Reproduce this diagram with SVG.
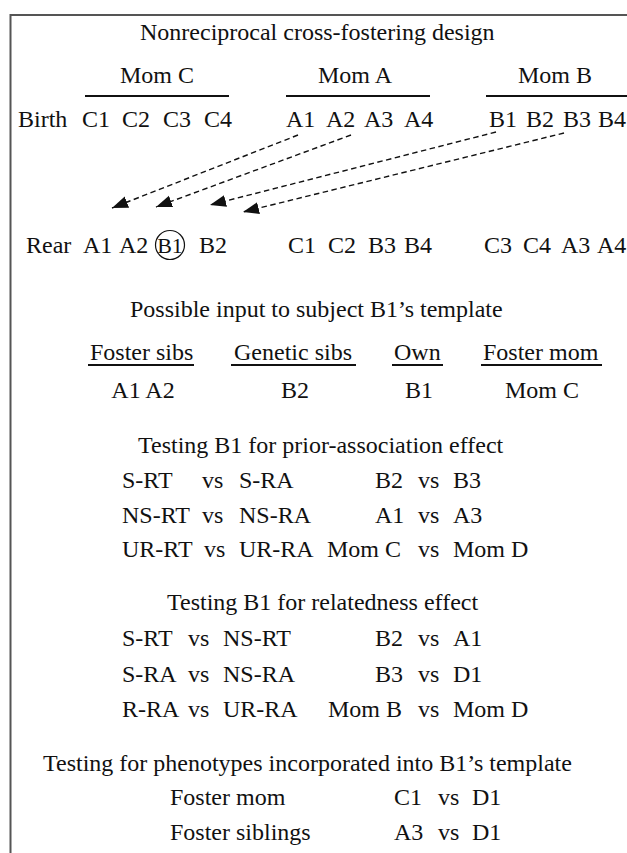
<svg xmlns="http://www.w3.org/2000/svg" width="627" height="853" viewBox="0 0 627 853">
<style>
text{font-family:"Liberation Serif","Times New Roman",serif;font-size:24px;fill:#111}
.rule{stroke:#111;stroke-width:2;fill:none}
.frame{stroke:#555;stroke-width:2;fill:none}
.arrow{stroke:#111;stroke-width:1.4;stroke-dasharray:5.5 3.5;fill:none;marker-end:url(#ah)}
.c{text-anchor:middle}
</style>
<defs>
<marker id="ah" markerUnits="userSpaceOnUse" markerWidth="17" markerHeight="13" refX="16" refY="6" orient="auto">
<path d="M0,0 L16,6 L0,12 z" fill="#111"/>
</marker>
</defs>
<path class="frame" d="M10.5,853 V15 H627"/>
<g id="title"><text x="140" y="40">Nonreciprocal cross-fostering design</text></g>
<g id="moms">
<text x="120" y="83">Mom C</text>
<text x="318" y="83">Mom A</text>
<text x="518" y="83">Mom B</text>
<line class="rule" x1="85" y1="96" x2="229" y2="96"/>
<line class="rule" x1="286" y1="96" x2="430" y2="96"/>
<line class="rule" x1="486" y1="96" x2="627" y2="96"/>
</g>
<g id="birth">
<text x="18" y="127">Birth</text>
<text x="82" y="127">C1</text><text x="122" y="127">C2</text><text x="163" y="127">C3</text><text x="204" y="127">C4</text>
<text x="286" y="127">A1</text><text x="326" y="127">A2</text><text x="364" y="127">A3</text><text x="404" y="127">A4</text>
<text x="489" y="127">B1</text><text x="526" y="127">B2</text><text x="563" y="127">B3</text><text x="598" y="127">B4</text>
</g>
<g id="connectors">
<line class="arrow" x1="298" y1="135" x2="112" y2="208"/>
<line class="arrow" x1="351" y1="135" x2="156" y2="207"/>
<line class="arrow" x1="496" y1="132" x2="210" y2="205"/>
<line class="arrow" x1="564" y1="133" x2="243" y2="212"/>
</g>
<g id="rear">
<text x="26" y="253">Rear</text>
<text x="83" y="253">A1</text><text x="119" y="253">A2</text>
<circle cx="170" cy="245" r="14.5" fill="none" stroke="#111" stroke-width="1.2"/>
<text class="c" x="170" y="253" style="font-size:22px">B1</text>
<text x="199" y="253">B2</text>
<text x="288" y="253">C1</text><text x="328" y="253">C2</text><text x="368" y="253">B3</text><text x="404" y="253">B4</text>
<text x="484" y="253">C3</text><text x="523" y="253">C4</text><text x="561" y="253">A3</text><text x="597" y="253">A4</text>
</g>
<g id="input">
<text x="130" y="317">Possible input to subject B1’s template</text>
<text x="90" y="360">Foster sibs</text>
<text x="234" y="360">Genetic sibs</text>
<text x="394" y="360">Own</text>
<text x="483" y="360">Foster mom</text>
<line class="rule" x1="88" y1="365" x2="194" y2="365"/>
<line class="rule" x1="231" y1="365" x2="356" y2="365"/>
<line class="rule" x1="392" y1="365" x2="443" y2="365"/>
<line class="rule" x1="481" y1="365" x2="602" y2="365"/>
<text class="c" x="143" y="398">A1 A2</text>
<text class="c" x="295" y="398">B2</text>
<text class="c" x="419" y="398">B1</text>
<text class="c" x="542" y="398">Mom C</text>
</g>
<g id="prior">
<text x="138" y="453">Testing B1 for prior-association effect</text>
<text x="122" y="488">S-RT</text><text x="202" y="488">vs</text><text x="239" y="488">S-RA</text>
<text x="375" y="488">B2</text><text x="418" y="488">vs</text><text x="453" y="488">B3</text>
<text x="122" y="523">NS-RT</text><text x="202" y="523">vs</text><text x="239" y="523">NS-RA</text>
<text x="375" y="523">A1</text><text x="418" y="523">vs</text><text x="453" y="523">A3</text>
<text x="122" y="557">UR-RT</text><text x="204" y="557">vs</text><text x="239" y="557">UR-RA</text>
<text x="327" y="557">Mom C</text><text x="418" y="557">vs</text><text x="453" y="557">Mom D</text>
</g>
<g id="relatedness">
<text x="167" y="610">Testing B1 for relatedness effect</text>
<text x="122" y="646">S-RT</text><text x="188" y="646">vs</text><text x="223" y="646">NS-RT</text>
<text x="375" y="646">B2</text><text x="418" y="646">vs</text><text x="453" y="646">A1</text>
<text x="122" y="682">S-RA</text><text x="188" y="682">vs</text><text x="223" y="682">NS-RA</text>
<text x="375" y="682">B3</text><text x="418" y="682">vs</text><text x="453" y="682">D1</text>
<text x="122" y="717">R-RA</text><text x="188" y="717">vs</text><text x="223" y="717">UR-RA</text>
<text x="328" y="717">Mom B</text><text x="418" y="717">vs</text><text x="453" y="717">Mom D</text>
</g>
<g id="phenotypes">
<text x="43" y="771">Testing for phenotypes incorporated into B1’s template</text>
<text x="170" y="805">Foster mom</text><text x="394" y="805">C1</text><text x="438" y="805">vs</text><text x="472" y="805">D1</text>
<text x="170" y="840">Foster siblings</text><text x="394" y="840">A3</text><text x="438" y="840">vs</text><text x="472" y="840">D1</text>
</g>
</svg>
